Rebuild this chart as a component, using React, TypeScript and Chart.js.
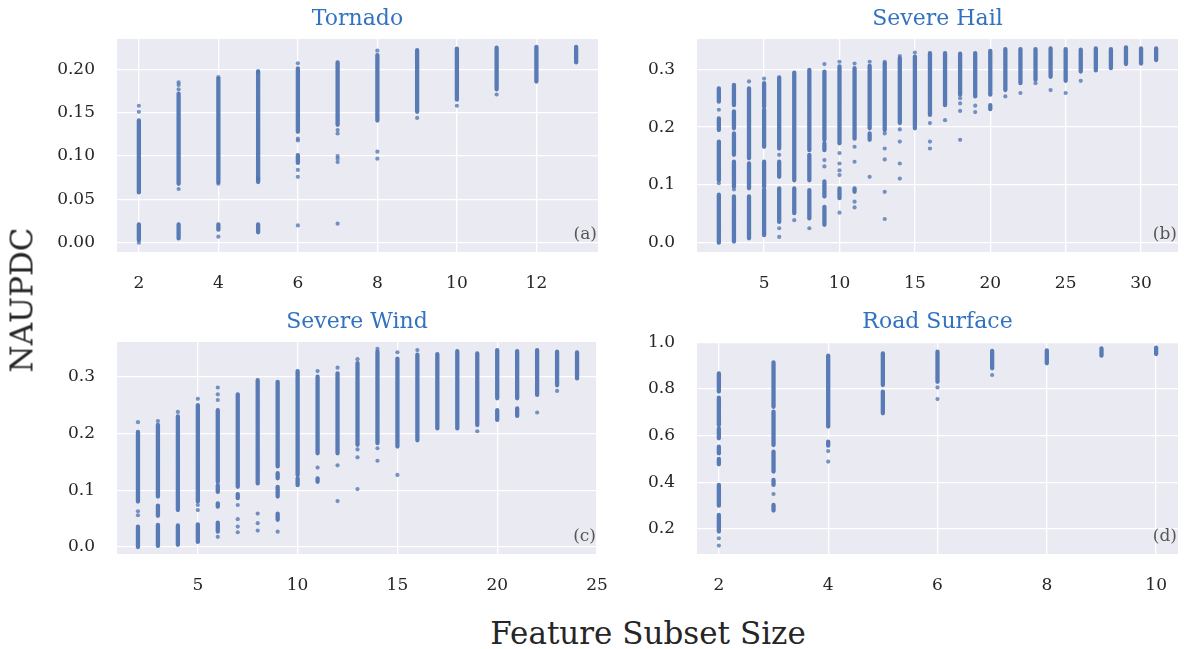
import React, { useEffect, useRef } from 'react';
import Chart from 'chart.js/auto';

// ---------- DATA ----------
const tornadoX = [2, 3, 4, 5, 6, 7, 8, 9, 10, 11, 12, 13];
const tornadoBands = [
  [[0.003, 0.021], [0.058, 0.141]],
  [[0.005, 0.021], [0.068, 0.172]],
  [[0.015, 0.021], [0.07, 0.189]],
  [[0.012, 0.021], [0.07, 0.197]],
  [[0.128, 0.201], [0.092, 0.101]],
  [[0.136, 0.208]],
  [[0.141, 0.2165]],
  [[0.151, 0.222]],
  [[0.165, 0.224]],
  [[0.177, 0.225]],
  [[0.186, 0.226]],
  [[0.208, 0.226]],
];
const tornadoDots = [
  [0.0, 0.151, 0.158],
  [0.177, 0.182, 0.185, 0.062],
  [0.191, 0.068, 0.007],
  [0.198, 0.074],
  [0.207, 0.12, 0.118, 0.084, 0.076, 0.02],
  [0.13, 0.126, 0.1, 0.097, 0.093, 0.022],
  [0.2215, 0.105, 0.097],
  [0.144],
  [0.158],
  [0.171],
  [],
  [],
];
const tornadoXTicks = [2, 4, 6, 8, 10, 12];
const tornadoYTicks = [0, 0.05, 0.1, 0.15, 0.2];

const hailX = [2, 3, 4, 5, 6, 7, 8, 9, 10, 11, 12, 13, 14, 15, 16, 17, 18, 19, 20, 21, 22, 23, 24, 25, 26, 27, 28, 29, 30, 31];
const hailBands = [
  [[0.244, 0.267], [0.195, 0.215], [0.108, 0.175], [0.0, 0.083]],
  [[0.238, 0.273], [0.198, 0.227], [0.152, 0.189], [0.097, 0.14], [0.002, 0.08]],
  [[0.146, 0.267], [0.094, 0.137], [0.0075, 0.08]],
  [[0.235, 0.276], [0.166, 0.23], [0.097, 0.14], [0.013, 0.092]],
  [[0.163, 0.286], [0.114, 0.14], [0.036, 0.094]],
  [[0.108, 0.294], [0.051, 0.094]],
  [[0.16, 0.299], [0.108, 0.152], [0.042, 0.091]],
  [[0.178, 0.296], [0.16, 0.172], [0.08, 0.106], [0.031, 0.062]],
  [[0.172, 0.305], [0.077, 0.094]],
  [[0.18, 0.302], [0.088, 0.094]],
  [[0.198, 0.306], [0.178, 0.189]],
  [[0.195, 0.31]],
  [[0.207, 0.319]],
  [[0.198, 0.322]],
  [[0.221, 0.328]],
  [[0.238, 0.328]],
  [[0.256, 0.327]],
  [[0.253, 0.328]],
  [[0.256, 0.332], [0.231, 0.238]],
  [[0.264, 0.335]],
  [[0.276, 0.335]],
  [[0.282, 0.335]],
  [[0.287, 0.336]],
  [[0.28, 0.335]],
  [[0.296, 0.334]],
  [[0.298, 0.336]],
  [[0.302, 0.335]],
  [[0.309, 0.338]],
  [[0.31, 0.336]],
  [[0.316, 0.336]],
];
const hailDots = [
  [0.23, 0.103],
  [0.092],
  [0.279],
  [0.284],
  [0.152, 0.025, 0.01],
  [0.039],
  [0.025],
  [0.309, 0.143, 0.132],
  [0.313, 0.155, 0.137, 0.125, 0.117, 0.052],
  [0.31, 0.166, 0.14, 0.071, 0.061],
  [0.313, 0.114],
  [0.313, 0.189, 0.163, 0.144, 0.088, 0.041],
  [0.323, 0.196, 0.175, 0.137, 0.111],
  [0.329],
  [0.207, 0.175, 0.163],
  [0.212],
  [0.25, 0.241, 0.228, 0.178],
  [0.237, 0.226],
  [],
  [0.253],
  [0.259],
  [0.276],
  [0.264],
  [0.259],
  [0.28],
  [],
  [],
  [],
  [],
  [],
];
const hailXTicks = [5, 10, 15, 20, 25, 30];
const hailYTicks = [0, 0.1, 0.2, 0.3];

const windX = [2, 3, 4, 5, 6, 7, 8, 9, 10, 11, 12, 13, 14, 15, 16, 17, 18, 19, 20, 21, 22, 23, 24];
const windBands = [
  [[0.08, 0.203], [0.0, 0.036]],
  [[0.089, 0.215], [0.055, 0.073], [0.002, 0.039]],
  [[0.065, 0.23], [0.004, 0.038]],
  [[0.08, 0.25], [0.009, 0.04]],
  [[0.115, 0.241], [0.097, 0.109], [0.071, 0.077], [0.027, 0.043]],
  [[0.106, 0.269], [0.086, 0.093]],
  [[0.112, 0.294]],
  [[0.142, 0.291], [0.121, 0.13], [0.089, 0.106], [0.048, 0.059]],
  [[0.127, 0.31], [0.109, 0.121]],
  [[0.165, 0.3], [0.115, 0.121]],
  [[0.165, 0.306]],
  [[0.18, 0.324]],
  [[0.183, 0.344]],
  [[0.177, 0.332]],
  [[0.188, 0.339]],
  [[0.209, 0.34]],
  [[0.209, 0.345]],
  [[0.215, 0.341]],
  [[0.262, 0.347], [0.224, 0.241]],
  [[0.262, 0.345], [0.231, 0.244]],
  [[0.268, 0.347]],
  [[0.285, 0.344]],
  [[0.297, 0.343]],
];
const windDots = [
  [0.22, 0.063, 0.056],
  [0.222],
  [0.238],
  [0.261, 0.074, 0.065],
  [0.281, 0.269, 0.259, 0.018],
  [0.074, 0.049, 0.036, 0.026],
  [0.059, 0.042, 0.029],
  [0.027],
  [],
  [0.31, 0.14],
  [0.316, 0.144, 0.081],
  [0.331, 0.172, 0.158, 0.102],
  [0.349, 0.174, 0.152],
  [0.343, 0.127],
  [0.347],
  [],
  [],
  [0.204],
  [],
  [],
  [0.237],
  [0.275],
  [],
];
const windXTicks = [5, 10, 15, 20, 25];
const windYTicks = [0, 0.1, 0.2, 0.3];

const roadX = [2, 3, 4, 5, 6, 7, 8, 9, 10];
const roadBands = [
  [[0.789, 0.867], [0.646, 0.763], [0.589, 0.631], [0.524, 0.553], [0.477, 0.5], [0.3, 0.389], [0.189, 0.26]],
  [[0.724, 0.914], [0.56, 0.703], [0.446, 0.531], [0.389, 0.41], [0.279, 0.303]],
  [[0.639, 0.943], [0.557, 0.574]],
  [[0.817, 0.953], [0.696, 0.789]],
  [[0.831, 0.96]],
  [[0.889, 0.963]],
  [[0.91, 0.966]],
  [[0.943, 0.974]],
  [[0.95, 0.977]],
];
const roadDots = [
  [0.16, 0.129],
  [0.35],
  [0.534, 0.489],
  [],
  [0.807, 0.757],
  [0.86],
  [],
  [],
  [],
];
const roadXTicks = [2, 4, 6, 8, 10];
const roadYTicks = [0.2, 0.4, 0.6, 0.8, 1.0];

// ---------- STYLE / LAYOUT ----------
const FONT = "'DejaVu Serif', serif";
const PAD_L = 80;
const PAD_T = 40;
const PAD_B = 45;
const PAD_R = 40;

const panels = [
  {
    title: 'Tornado', tag: '(a)', xs: tornadoX, bands: tornadoBands, dots: tornadoDots,
    xTicks: tornadoXTicks, yTicks: tornadoYTicks, xMin: 1.45, xMax: 13.55, yMin: -0.0107, yMax: 0.235, dec: 2,
    left: 117, top: 39, right: 598, bottom: 252,
  },
  {
    title: 'Severe Hail', tag: '(b)', xs: hailX, bands: hailBands, dots: hailDots,
    xTicks: hailXTicks, yTicks: hailYTicks, xMin: 0.55, xMax: 32.45, yMin: -0.0161, yMax: 0.3524, dec: 1,
    left: 697, top: 39, right: 1178, bottom: 252,
  },
  {
    title: 'Severe Wind', tag: '(c)', xs: windX, bands: windBands, dots: windDots,
    xTicks: windXTicks, yTicks: windYTicks, xMin: 0.95, xMax: 25.0, yMin: -0.0123, yMax: 0.3612, dec: 1,
    left: 117, top: 342, right: 597, bottom: 554,
  },
  {
    title: 'Road Surface', tag: '(d)', xs: roadX, bands: roadBands, dots: roadDots,
    xTicks: roadXTicks, yTicks: roadYTicks, xMin: 1.6, xMax: 10.4, yMin: 0.0928, yMax: 1.0015, dec: 1,
    left: 697, top: 342, right: 1178, bottom: 554,
  },
];

const bgPlugin = {
  id: 'bg',
  beforeDraw(chart: any) {
    const { ctx, chartArea } = chart;
    ctx.save();
    ctx.fillStyle = '#eaeaf2';
    ctx.fillRect(chartArea.left, chartArea.top, chartArea.right - chartArea.left, chartArea.bottom - chartArea.top);
    ctx.restore();
  },
};

function Panel({ p }: { p: any }) {
  const ref = useRef<HTMLCanvasElement>(null);
  const w = p.right - p.left + PAD_L + PAD_R;
  const h = p.bottom - p.top + PAD_T + PAD_B;
  useEffect(() => {
    const bandData: any[] = [];
    const dotData: any[] = [];
    p.xs.forEach((x: number, i: number) => {
      p.bands[i].forEach((b: number[]) => {
        bandData.push({ x, y: b[0] }, { x, y: b[1] }, { x, y: null });
      });
      p.dots[i].forEach((y: number) => dotData.push({ x, y }));
    });
    const tickFont = { family: FONT, size: 17 };
    const chart = new Chart(ref.current as HTMLCanvasElement, {
      type: 'scatter',
      data: {
        datasets: [
          {
            data: dotData,
            pointRadius: 2.1,
            pointBorderWidth: 0,
            pointBackgroundColor: 'rgba(76,114,176,0.75)',
            showLine: false,
          },
          {
            data: bandData,
            showLine: true,
            spanGaps: false,
            pointRadius: 0,
            borderColor: 'rgba(76,114,176,0.93)',
            borderWidth: 4.3,
            borderCapStyle: 'round',
          } as any,
        ],
      },
      options: {
        animation: false,
        responsive: false,
        events: [],
        layout: { padding: { top: PAD_T, right: PAD_R, left: 0, bottom: 0 } },
        plugins: { legend: { display: false }, tooltip: { enabled: false } },
        scales: {
          x: {
            type: 'linear',
            min: p.xMin,
            max: p.xMax,
            afterBuildTicks: (s: any) => { s.ticks = p.xTicks.map((v: number) => ({ value: v })); },
            afterFit: (s: any) => { s.height = PAD_B; },
            grid: { color: '#ffffff', lineWidth: 1.3, drawTicks: false },
            border: { display: false },
            ticks: {
              padding: 21, color: '#262626', font: tickFont, autoSkip: false, maxRotation: 0,
              callback: (v: any) => String(v),
            },
          },
          y: {
            type: 'linear',
            min: p.yMin,
            max: p.yMax,
            afterBuildTicks: (s: any) => { s.ticks = p.yTicks.map((v: number) => ({ value: v })); },
            afterFit: (s: any) => { s.width = PAD_L; },
            grid: { color: '#ffffff', lineWidth: 1.3, drawTicks: false },
            border: { display: false },
            ticks: {
              padding: 22, color: '#262626', font: tickFont, autoSkip: false,
              callback: (v: any) => Number(v).toFixed(p.dec),
            },
          },
        },
      },
      plugins: [bgPlugin],
    });
    return () => chart.destroy();
  }, []);
  return (
    <>
      <canvas
        ref={ref}
        width={w}
        height={h}
        style={{ position: 'absolute', left: p.left - PAD_L, top: p.top - PAD_T, width: w, height: h }}
      />
      <div
        style={{
          position: 'absolute', left: (p.left + p.right) / 2, top: p.top - 21,
          transform: 'translate(-50%, -50%)', font: `22px ${FONT}`, color: '#3272c0',
          whiteSpace: 'nowrap', lineHeight: '22px',
        }}
      >
        {p.title}
      </div>
      <div
        style={{
          position: 'absolute', right: 1184 - p.right + 1, top: p.bottom - 19,
          transform: 'translateY(-50%)', font: `17px ${FONT}`, color: '#555555',
          whiteSpace: 'nowrap', lineHeight: '17px',
        }}
      >
        {p.tag}
      </div>
    </>
  );
}

export default function App() {
  return (
    <div style={{ position: 'absolute', left: 0, top: 0, width: 1184, height: 649, overflow: 'hidden', background: '#fff' }}>
      {panels.map((p) => <Panel key={p.title} p={p} />)}
      <div
        style={{
          position: 'absolute', left: 22, top: 300, transform: 'translate(-50%, -50%) rotate(-90deg)',
          font: `31px ${FONT}`, color: '#262626', whiteSpace: 'nowrap', lineHeight: '31px',
        }}
      >
        NAUPDC
      </div>
      <div
        style={{
          position: 'absolute', left: 648, top: 633, transform: 'translate(-50%, -50%)',
          font: `31px ${FONT}`, color: '#262626', whiteSpace: 'nowrap', lineHeight: '31px',
        }}
      >
        Feature Subset Size
      </div>
    </div>
  );
}
